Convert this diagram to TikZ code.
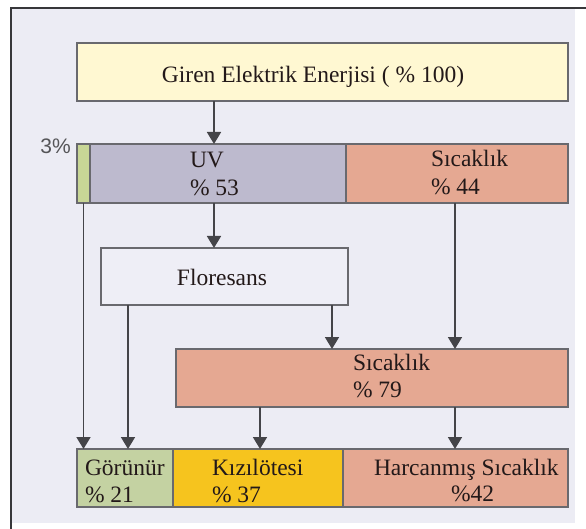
\documentclass[tikz,border=0pt]{standalone}
\usepackage{fontspec}
\IfFontExistsTF{LiberationSerif-Regular.ttf}{%
  \setmainfont{LiberationSerif-Regular.ttf}[BoldFont=LiberationSerif-Bold.ttf]%
}{%
  \IfFontExistsTF{Tinos}{\setmainfont{Tinos}}{}%
}
\newfontfamily\labelsans{Liberation Sans}
\usetikzlibrary{arrows.meta}
\definecolor{bgc}{RGB}{236,236,244}
\definecolor{framec}{RGB}{55,55,58}
\definecolor{topc}{RGB}{255,248,210}
\definecolor{gsc}{RGB}{200,214,150}
\definecolor{uvc}{RGB}{189,186,206}
\definecolor{sicc}{RGB}{229,168,146}
\definecolor{gorc}{RGB}{196,210,162}
\definecolor{kizc}{RGB}{246,196,30}
\definecolor{floc}{RGB}{238,238,246}
\definecolor{boxline}{RGB}{105,105,110}
\definecolor{arrc}{RGB}{68,68,72}
\definecolor{txtc}{RGB}{35,25,25}
\definecolor{pctc}{RGB}{85,85,88}
\tikzset{
  box/.style={draw=boxline, line width=1.6pt, inner sep=0pt, outer sep=0pt, anchor=north west},
  arr/.style={draw=arrc, line width=1.8pt, -{Triangle[width=14pt,length=12pt]}},
  txt/.style={inner sep=0pt, outer sep=0pt, font=\rmfamily\fontsize{23.5}{28}\selectfont, text=txtc, anchor=base west}
}
\begin{document}
\begin{tikzpicture}[x=1pt,y=-1pt]
\useasboundingbox (0,0) rectangle (586,529);
\fill[white] (0,0) rectangle (586,529);
\fill[bgc] (11,8) rectangle (575,523);
\draw[framec, line width=2pt] (11,8) -- (586,8);
\draw[framec, line width=2.6pt] (11,529) -- (11,7);

% boxes
\node[box, fill=topc, minimum width=491pt, minimum height=58pt] (top) at (77,43) {};
\node[box, fill=uvc, minimum width=256pt, minimum height=59pt] (uv) at (90,144) {};
\node[box, fill=sicc, minimum width=222pt, minimum height=59pt] (sic1) at (346,144) {};
\node[box, fill=gsc, minimum width=13pt, minimum height=59pt] (gs) at (77,144) {};
\node[box, fill=floc, minimum width=247pt, minimum height=57pt] (flo) at (101,248) {};
\node[box, fill=sicc, minimum width=392pt, minimum height=58pt] (sic2) at (176,349) {};
\node[box, fill=gorc, minimum width=96pt, minimum height=58pt] (gor) at (77,449) {};
\node[box, fill=kizc, minimum width=170pt, minimum height=58pt] (kiz) at (173,449) {};
\node[box, fill=sicc, minimum width=225pt, minimum height=58pt] (harc) at (343,449) {};

% texts
\node[txt, anchor=base] (ttop) at (313,83) {Giren Elektrik Enerjisi ( \% 100)};
\node[inner sep=0pt, anchor=base east, text=pctc, font=\labelsans\fontsize{21}{24}\selectfont] (tpct) at (71,154) {3\%};
\node[txt] (tuv1) at (190,168) {UV};
\node[txt] (tuv2) at (190,196) {\% 53};
\node[txt] (ts11) at (431,167) {Sıcaklık};
\node[txt] (ts12) at (431,195) {\% 44};
\node[txt, anchor=base] (tflo) at (222,285) {Floresans};
\node[txt] (ts21) at (353,370) {Sıcaklık};
\node[txt] (ts22) at (353,397) {\% 79};
\node[txt] (tgor1) at (85,475) {Görünür};
\node[txt] (tgor2) at (85,502) {\% 21};
\node[txt] (tkiz1) at (212,475) {Kızılötesi};
\node[txt] (tkiz2) at (212,502) {\% 37};
\node[txt] (tharc1) at (374,475) {Harcanmış Sıcaklık};
\node[txt] (tharc2) at (451,501) {\%42};

% connector columns
\coordinate (cA) at (214,0);
\coordinate (cB) at (128,0);
\coordinate (cC) at (332,0);
\coordinate (cD) at (455,0);
\coordinate (cE) at (260,0);
\coordinate (cG) at (83.5,0);

\draw[arr] (top.south -| cA) -- (uv.north -| cA);
\draw[arr] (uv.south -| cA) -- (flo.north -| cA);
\draw[arr] (gs.south -| cG) -- (gor.north -| cG);
\draw[arr] (flo.south -| cB) -- (gor.north -| cB);
\draw[arr] (flo.south -| cC) -- (sic2.north -| cC);
\draw[arr] (sic1.south -| cD) -- (sic2.north -| cD);
\draw[arr] (sic2.south -| cE) -- (kiz.north -| cE);
\draw[arr] (sic2.south -| cD) -- (harc.north -| cD);
\end{tikzpicture}
\end{document}
